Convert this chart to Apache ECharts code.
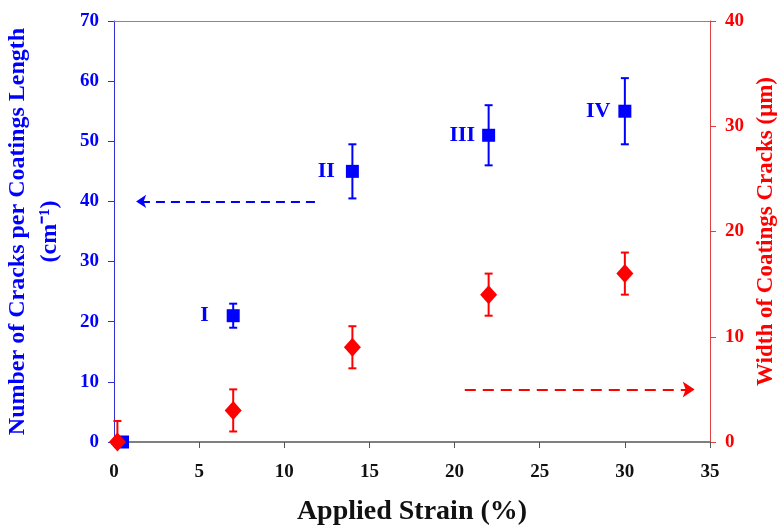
<!DOCTYPE html>
<html>
  <head>
    <meta charset="utf-8" />
    <title>Cracks vs Applied Strain</title>
    <script src="https://cdn.jsdelivr.net/npm/echarts@6/dist/echarts.min.js"></script>
  </head>
  <body>
    <style>
      html, body { margin: 0; padding: 0; background: #fff; }
      #main { width: 782px; height: 526px; }
    </style>
    <div id="main"></div>
    <script type="text/javascript">
      // data
      var strainBlue = [0.5, 7, 14, 22, 30];
      var crackCount = [0, 21, 45, 51, 55];
      var crackCountErr = [0, 2, 4.5, 5, 5.5];
      var stageLabels = ['', 'I', 'II', 'III', 'IV'];

      var strainRed = [0.2, 7, 14, 22, 30];
      var crackWidth = [0, 3, 9, 14, 16];
      var crackWidthErr = [2, 2, 2, 2, 2];

      var BLUE = '#0000ff';
      var RED = '#ff0000';
      var FONT = 'Liberation Serif';

      var chart = echarts.init(document.getElementById('main'));

      function errorData(xs, ys, es) {
        return xs.map(function (x, i) {
          return [x, Math.max(0, ys[i] - es[i]), ys[i] + es[i]];
        });
      }

      function errorBar(color) {
        return function (params, api) {
          var lo = api.coord([api.value(0), api.value(1)]);
          var hi = api.coord([api.value(0), api.value(2)]);
          if (Math.abs(hi[1] - lo[1]) < 1) return null;
          var w = 4;
          var st = { stroke: color, lineWidth: 2 };
          return {
            type: 'group',
            children: [
              { type: 'line', shape: { x1: lo[0], y1: lo[1], x2: hi[0], y2: hi[1] }, style: st },
              { type: 'line', shape: { x1: hi[0] - w, y1: hi[1], x2: hi[0] + w, y2: hi[1] }, style: st },
              { type: 'line', shape: { x1: lo[0] - w, y1: lo[1], x2: lo[0] + w, y2: lo[1] }, style: st }
            ]
          };
        };
      }

      var labelGap = [0, 18, 11, 7, 8];

      var option = {
        animation: false,
        backgroundColor: '#fff',
        grid: { left: 114, right: 72, top: 21, bottom: 84, containLabel: false, outerBoundsMode: 'none' },
        xAxis: [
          {
            type: 'value', min: 0, max: 35, interval: 5,
            name: 'Applied Strain (%)', nameLocation: 'middle', nameGap: 56,
            nameTextStyle: { fontFamily: FONT, fontWeight: 'bold', fontSize: 28, color: '#111' },
            axisLine: { onZero: false, lineStyle: { color: '#555', width: 1.5 } },
            axisTick: { length: 6, lineStyle: { color: '#555' } },
            axisLabel: { margin: 21, fontFamily: FONT, fontWeight: 'bold', fontSize: 19, color: '#111' },
            splitLine: { show: false }
          },
          {
            type: 'value', position: 'top', min: 0, max: 35,
            axisLine: { show: true, onZero: false, lineStyle: { color: '#888' } },
            axisTick: { show: false }, axisLabel: { show: false }, splitLine: { show: false }
          }
        ],
        yAxis: [
          {
            type: 'value', min: 0, max: 70, interval: 10, position: 'left',
            name: 'Number of Cracks per Coatings Length\n(cm\u207B\u00B9)',
            nameLocation: 'middle', nameRotate: 90, nameGap: 48,
            nameTextStyle: { fontFamily: FONT, fontWeight: 'bold', fontSize: 24, color: BLUE, lineHeight: 32 },
            axisLine: { show: true, onZero: false, lineStyle: { color: '#3030d0' } },
            axisTick: { show: true, length: 6, lineStyle: { color: '#3030d0' } },
            axisLabel: { margin: 15, fontFamily: FONT, fontWeight: 'bold', fontSize: 19, color: BLUE },
            splitLine: { show: false }
          },
          {
            type: 'value', min: 0, max: 40, interval: 10, position: 'right',
            name: 'Width of Coatings Cracks (\u03BCm)',
            nameLocation: 'middle', nameRotate: 90, nameGap: 30,
            nameTextStyle: { fontFamily: FONT, fontWeight: 'bold', fontSize: 23, color: RED },
            axisLine: { show: true, onZero: false, lineStyle: { color: '#e04040' } },
            axisTick: { show: true, length: 6, lineStyle: { color: '#e04040' } },
            axisLabel: { margin: 15, fontFamily: FONT, fontWeight: 'bold', fontSize: 19, color: RED },
            splitLine: { show: false }
          }
        ],
        series: [
          {
            type: 'custom', name: 'countErr', xAxisIndex: 0, yAxisIndex: 0, z: 2,
            renderItem: errorBar(BLUE),
            encode: { x: 0, y: [1, 2] },
            data: errorData(strainBlue, crackCount, crackCountErr)
          },
          {
            type: 'custom', name: 'widthErr', xAxisIndex: 0, yAxisIndex: 1, z: 2,
            renderItem: errorBar(RED),
            encode: { x: 0, y: [1, 2] },
            data: errorData(strainRed, crackWidth, crackWidthErr)
          },
          {
            type: 'scatter', name: 'count', xAxisIndex: 0, yAxisIndex: 0, z: 4,
            symbol: 'rect', symbolSize: 13,
            itemStyle: { color: BLUE, opacity: 1 },
            data: strainBlue.map(function (x, i) {
              return {
                value: [x, crackCount[i]],
                label: {
                  show: true, position: 'left', distance: labelGap[i],
                  formatter: stageLabels[i],
                  fontFamily: FONT, fontWeight: 'bold', fontSize: 22, color: BLUE
                }
              };
            }),
            markLine: {
              silent: true, symbol: ['none', 'arrow'], symbolSize: [10, 10],
              label: { show: false },
              lineStyle: { color: BLUE, type: [9, 6], width: 2, opacity: 1 },
              data: [[{ coord: [11.8, 40] }, { coord: [1.3, 40] }]]
            }
          },
          {
            type: 'scatter', name: 'width', xAxisIndex: 0, yAxisIndex: 1, z: 4,
            symbol: 'diamond', symbolSize: [17, 19],
            itemStyle: { color: RED, opacity: 1 },
            data: strainRed.map(function (x, i) { return [x, crackWidth[i]]; }),
            markLine: {
              silent: true, symbol: ['none', 'arrow'], symbolSize: [12, 12],
              label: { show: false },
              lineStyle: { color: RED, type: [11, 7], width: 2, opacity: 1 },
              data: [[{ coord: [20.6, 5] }, { coord: [34.1, 5] }]]
            }
          }
        ]
      };

      chart.setOption(option);
    </script>
  </body>
</html>
